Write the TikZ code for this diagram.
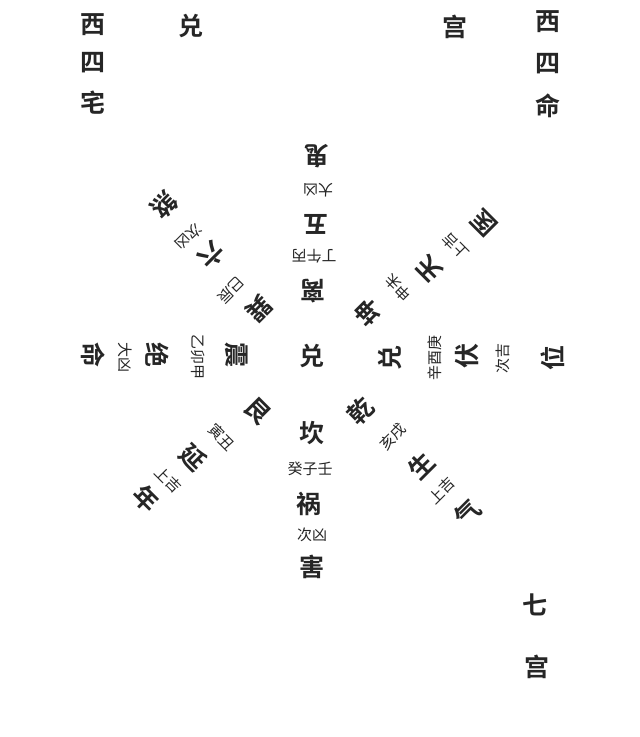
\documentclass[tikz,border=0pt]{standalone}
\usepackage{fontspec}
\newfontfamily\cjk{Noto Sans CJK SC}[BoldFont={Noto Sans CJK SC Bold}]
\tikzset{
  big/.style={font=\cjk\bfseries\fontsize{25}{25}\selectfont, inner sep=0pt, text=black!85},
  small/.style={font=\cjk\fontsize{15}{15}\selectfont, inner sep=0pt, text=black!85},
  corner/.style={font=\cjk\bfseries\fontsize{25}{25}\selectfont, inner sep=0pt, text=black!85}
}
\begin{document}
\begin{tikzpicture}[x=1pt,y=-1pt]
\useasboundingbox (0,0) rectangle (640,737);
\fill[white] (0,0) rectangle (640,737);
% corner texts
\node[corner] (tl1) at (93,25) {西};
\node[corner] (tl2) at (93,63) {四};
\node[corner] (tl3) at (93,103) {宅};
\node[corner] (tdui) at (191,26) {兑};
\node[corner] (tgong) at (455,27) {宫};
\node[corner] (tr1) at (548,22) {西};
\node[corner] (tr2) at (548,64) {四};
\node[corner] (tr3) at (548,106) {命};
\node[corner] (br1) at (535,605) {七};
\node[corner] (br2) at (537,667) {宫};
% centre
\node[big] (c) at (312,356) {兑};
% top: Li
\node[big,rotate=180] (n1) at (313,291) {离};
\node[small,rotate=180] (n2) at (314,256) {丁午丙};
\node[big,rotate=180] (n3) at (316,224) {五};
\node[small,rotate=180] (n4) at (318,190) {大凶};
\node[big,rotate=180] (n5) at (317,156) {鬼};
% upper right: Kun
\node[big,rotate=135] (ne1) at (368,312) {坤};
\node[small,rotate=135] (ne2) at (398,288) {申未};
\node[big,rotate=135] (ne3) at (429,269) {天};
\node[small,rotate=135] (ne4) at (456,246) {上吉};
\node[big,rotate=135] (ne5) at (484,223) {医};
% right: Dui
\node[big,rotate=90] (e1) at (390,358) {兑};
\node[small,rotate=90] (e2) at (435,358) {辛酉庚};
\node[big,rotate=90] (e3) at (467,356) {伏};
\node[small,rotate=90] (e4) at (503,358) {次吉};
\node[big,rotate=90] (e5) at (553,358) {位};
% lower right: Qian
\node[big,rotate=45] (se1) at (361,411) {乾};
\node[small,rotate=45] (se2) at (393,437) {亥戌};
\node[big,rotate=45] (se3) at (421,466) {生};
\node[small,rotate=45] (se4) at (442,491) {上吉};
\node[big,rotate=45] (se5) at (468,513) {气};
% bottom: Kan
\node[big] (s1) at (312,433) {坎};
\node[small] (s2) at (310,469) {癸子壬};
\node[big] (s3) at (309,504) {祸};
\node[small] (s4) at (312,535) {次凶};
\node[big] (s5) at (312,567) {害};
% lower left: Gen
\node[big,rotate=-45] (sw1) at (258,411) {艮};
\node[small,rotate=-45] (sw2) at (222,437) {寅丑};
\node[big,rotate=-45] (sw3) at (193,458) {延};
\node[small,rotate=-45] (sw4) at (168,480) {上吉};
\node[big,rotate=-45] (sw5) at (146,499) {年};
% left: Zhen
\node[big,rotate=-90] (w1) at (237,355) {震};
\node[small,rotate=-90] (w2) at (198,357) {乙卯甲};
\node[big,rotate=-90] (w3) at (157,355) {绝};
\node[small,rotate=-90] (w4) at (125,357) {大凶};
\node[big,rotate=-90] (w5) at (93,355) {命};
% upper left: Xun
\node[big,rotate=225] (nw1) at (259,309) {巽};
\node[small,rotate=225] (nw2) at (231,290) {巳辰};
\node[big,rotate=225] (nw3) at (211,255) {六};
\node[small,rotate=225] (nw4) at (189,237) {次凶};
\node[big,rotate=225] (nw5) at (164,205) {煞};
\end{tikzpicture}
\end{document}
